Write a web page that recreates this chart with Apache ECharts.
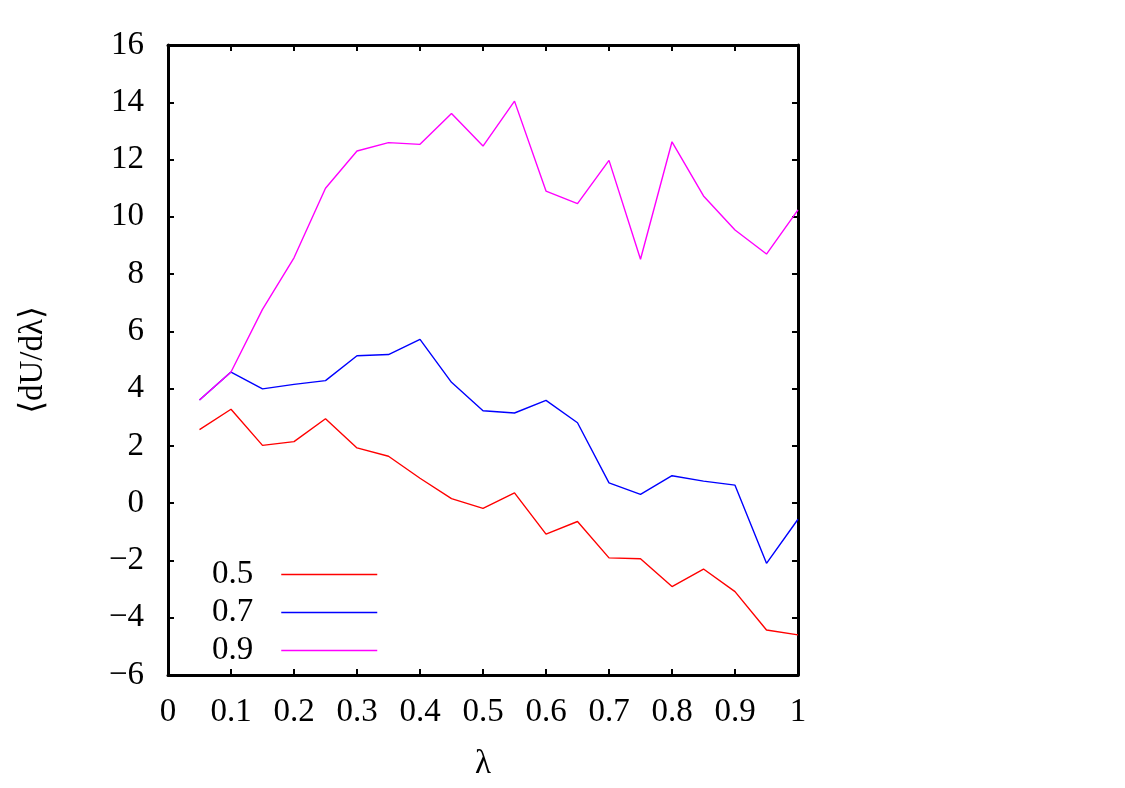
<!DOCTYPE html>
<html>
<head>
<meta charset="utf-8">
<script src="https://cdn.jsdelivr.net/npm/echarts@6/dist/echarts.min.js"></script>
<style>
  html, body { margin: 0; padding: 0; background: #fff; }
  #main { width: 1125px; height: 788px; }
</style>
</head>
<body>
<div id="main"></div>
<script>
  // lambda values
  var lambdas = [0.05, 0.1, 0.15, 0.2, 0.25, 0.3, 0.35, 0.4, 0.45, 0.5,
                 0.55, 0.6, 0.65, 0.7, 0.75, 0.8, 0.85, 0.9, 0.95, 1.0];
  var seriesNames = ['0.5', '0.7', '0.9'];
  var data05 = [2.57, 3.28, 2.02, 2.15, 2.95, 1.93, 1.64, 0.87, 0.16, -0.18,
                0.36, -1.08, -0.64, -1.91, -1.94, -2.91, -2.30, -3.09, -4.43, -4.60];
  var data07 = [3.60, 4.58, 3.99, 4.15, 4.28, 5.15, 5.19, 5.72, 4.22, 3.23,
                3.15, 3.59, 2.81, 0.71, 0.31, 0.96, 0.77, 0.63, -2.10, -0.56];
  var data09 = [3.60, 4.58, 6.77, 8.57, 11.0, 12.30, 12.59, 12.53, 13.61, 12.47,
                14.04, 10.90, 10.46, 11.97, 8.52, 12.62, 10.73, 9.54, 8.70, 10.24];
  var colors = ['#ff0000', '#0000ff', '#ff00ff'];

  var chart = echarts.init(document.getElementById('main'));
  var font = '"Liberation Serif", "DejaVu Serif", serif';

  function pairs(ys) {
    return lambdas.map(function (x, i) { return [x, ys[i]]; });
  }
  function fmtNum(v) {
    return String(Math.round(v * 100) / 100).replace('-', '\u2212');
  }

  var frameLine = { show: true, onZero: false, lineStyle: { color: '#000', width: 3 } };
  var ticks = { show: true, inside: true, length: 6, lineStyle: { color: '#000', width: 2 } };

  var option = {
    animation: false,
    backgroundColor: '#fff',
    grid: { left: 168, right: 327, top: 45, bottom: 113, containLabel: false, outerBoundsMode: 'none' },
    legend: {
      orient: 'vertical',
      left: 207,
      top: 553,
      align: 'right',
      icon: 'rect',
      itemWidth: 96,
      itemHeight: 1.6,
      itemGap: 5,
      data: seriesNames,
      textStyle: { fontFamily: font, fontSize: 33, color: '#000', padding: [0, 23, 0, 0] }
    },
    xAxis: [{
      type: 'value', min: 0, max: 1, interval: 0.1,
      position: 'bottom',
      name: 'λ', nameLocation: 'middle', nameGap: 73,
      nameTextStyle: { fontFamily: font, fontSize: 33, color: '#000' },
      axisLine: frameLine, axisTick: ticks,
      axisLabel: { fontFamily: font, fontSize: 33, color: '#000', margin: 21, formatter: fmtNum },
      splitLine: { show: false }
    }, {
      type: 'value', min: 0, max: 1, interval: 0.1,
      position: 'top',
      axisLine: frameLine, axisTick: ticks,
      axisLabel: { show: false }, splitLine: { show: false }
    }],
    yAxis: [{
      type: 'value', min: -6, max: 16, interval: 2,
      position: 'left',
      name: '\u27e8dU/dλ\u27e9', nameLocation: 'middle', nameGap: 118,
      nameTextStyle: { fontFamily: font, fontSize: 33, color: '#000' },
      axisLine: frameLine, axisTick: ticks,
      axisLabel: { fontFamily: font, fontSize: 33, color: '#000', margin: 24, formatter: fmtNum },
      splitLine: { show: false }
    }, {
      type: 'value', min: -6, max: 16, interval: 2,
      position: 'right',
      axisLine: frameLine, axisTick: ticks,
      axisLabel: { show: false }, splitLine: { show: false }
    }],
    series: [data05, data07, data09].map(function (d, i) {
      return {
        name: seriesNames[i],
        type: 'line',
        data: pairs(d),
        symbol: 'none',
        color: colors[i],
        lineStyle: { color: colors[i], width: 1.4 },
        z: 2 + i
      };
    })
  };

  option && chart.setOption(option);
</script>
</body>
</html>
